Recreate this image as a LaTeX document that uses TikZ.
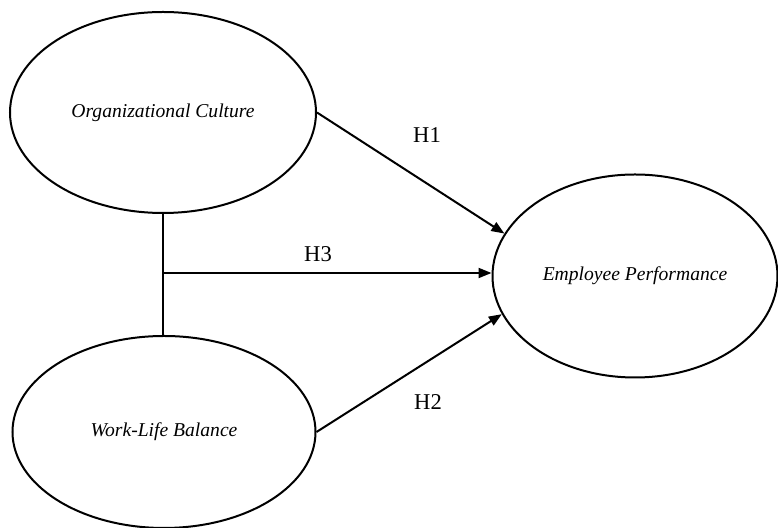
\documentclass[tikz,border=0pt]{standalone}
\usepackage{fontspec}
\setmainfont{Liberation Serif}
\usetikzlibrary{positioning,arrows.meta,shapes.geometric}
\tikzstyle{construct} = [
ellipse,
draw=black,
line width=1pt,
inner sep=0pt,
text centered,
font=\itshape\fontsize{9.8}{12}\selectfont
]
\tikzstyle{arrow} = [
line width=1pt,
-{Triangle[length=6.5pt,width=5pt]}
]
\tikzstyle{hyp} = [
font=\fontsize{11.3}{13}\selectfont
]

\begin{document}
\begin{tikzpicture}[x=0.5pt,y=-0.5pt]
					\useasboundingbox (0,0) rectangle (778,528);
					%Nodes
					\node[construct,minimum width=153pt,minimum height=100.5pt] (oc) at (163,112.5) {Organizational Culture};
					\node[construct,minimum width=151.5pt,minimum height=96pt] (wlb) at (164,432) {Work-Life Balance};
					\node[construct,minimum width=142.5pt,minimum height=101.5pt] (ep) at (635,276) {Employee Performance};
					\coordinate (join) at (oc.south |- 0,273);
					\node[hyp] (h1) at (427,135) {H1};
					\node[hyp] (h3) at (318,254) {H3};
					\node[hyp] (h2) at (428,402) {H2};
					%Arrows
					\draw[line width=1pt] (oc.south) -- (join) -- (join |- wlb.north);
					\draw[arrow] (oc.east) -- (ep.162.7);
					\draw[arrow] (join) -- (join -| ep.west);
					\draw[arrow] (wlb.east) -- (ep.196.3);
				\end{tikzpicture}
\end{document}
